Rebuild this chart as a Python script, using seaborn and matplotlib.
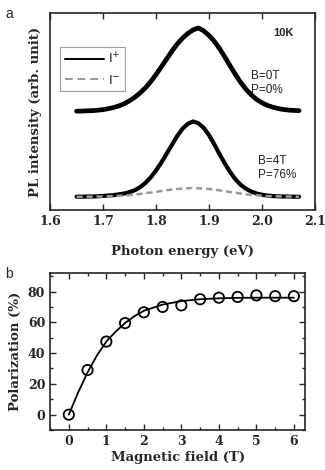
import numpy as np
import pandas as pd
import matplotlib
matplotlib.use("Agg")
import matplotlib.pyplot as plt
from matplotlib.ticker import MultipleLocator
from matplotlib.lines import Line2D
import seaborn as sns

# photon energy grid (eV) for the PL spectra
energy = np.round(np.arange(1.65, 2.0751, 0.01), 2)

# B=0T spectrum (I+ and I- overlap), arb. unit
pl_b0 = [0.502, 0.503, 0.504, 0.505, 0.507, 0.510, 0.515, 0.521, 0.529, 0.540,
         0.555, 0.573, 0.595, 0.621, 0.652, 0.688, 0.727, 0.767, 0.807, 0.843,
         0.873, 0.897, 0.915, 0.925, 0.910, 0.887, 0.857, 0.820, 0.777, 0.732,
         0.688, 0.648, 0.613, 0.585, 0.562, 0.545, 0.532, 0.523, 0.516, 0.511,
         0.508, 0.506, 0.505]
# B=4T spectra
pl_plus = [0.068, 0.068, 0.069, 0.069, 0.070, 0.072, 0.074, 0.076, 0.080, 0.084,
           0.091, 0.101, 0.116, 0.138, 0.166, 0.201, 0.241, 0.286, 0.331, 0.376,
           0.413, 0.438, 0.450, 0.441, 0.418, 0.381, 0.334, 0.284, 0.236, 0.193,
           0.156, 0.128, 0.108, 0.094, 0.084, 0.078, 0.074, 0.071, 0.070, 0.069,
           0.069, 0.068, 0.068]
pl_minus = [0.067, 0.067, 0.068, 0.068, 0.069, 0.069, 0.070, 0.071, 0.072, 0.074,
            0.076, 0.079, 0.082, 0.086, 0.089, 0.093, 0.097, 0.101, 0.104, 0.107,
            0.109, 0.111, 0.112, 0.111, 0.109, 0.107, 0.104, 0.100, 0.096, 0.092,
            0.088, 0.084, 0.080, 0.077, 0.075, 0.073, 0.071, 0.070, 0.070, 0.069,
            0.069, 0.068, 0.068]

# polarization vs field
field = [0, 0.5, 1, 1.5, 2, 2.5, 3, 3.5, 4, 4.5, 5, 5.5, 6]
polar = [0, 29, 47.5, 59.5, 66.5, 70, 71, 75, 76, 76.5, 77.5, 77, 77]
fit_field = [0, 0.25, 0.5, 0.75, 1, 1.25, 1.5, 1.75, 2, 2.5, 3, 3.5, 4, 4.5, 5, 5.5, 6]
fit_polar = [0, 14.5, 27.5, 38.5, 47.5, 54, 59.5, 64, 67.5, 71.5, 73.8, 75, 75.6, 75.9, 76, 76, 76]

spec = pd.DataFrame({"E": energy, "b0": pl_b0, "plus": pl_plus, "minus": pl_minus})

sns.set_style("ticks")
plt.rcParams["font.family"] = ["DejaVu Serif"]
plt.rcParams["xtick.direction"] = "in"
plt.rcParams["ytick.direction"] = "in"

fig = plt.figure(figsize=(3.25, 4.70), dpi=100)
ax1 = fig.add_axes([0.154, 0.553, 0.815, 0.419])
ax2 = fig.add_axes([0.154, 0.085, 0.785, 0.334])

# panel a
sns.lineplot(data=spec, x="E", y="b0", ax=ax1, color="black", lw=3.4)
sns.lineplot(data=spec, x="E", y="plus", ax=ax1, color="black", lw=3.0)
sns.lineplot(data=spec, x="E", y="minus", ax=ax1, color="#999999", lw=1.8,
             linestyle=(0, (2.5, 1.5)))
ax1.set_xlim(1.6, 2.1)
ax1.set_ylim(0, 1)
ax1.set_yticks([])
ax1.xaxis.set_major_locator(MultipleLocator(0.1))
ax1.tick_params(axis="x", top=True, length=4, width=1, labelsize=9)
for t in ax1.get_xticklabels():
    t.set_fontweight("bold")
ax1.set_xlabel("Photon energy (eV)", fontsize=9.5, fontweight="bold", labelpad=12)
ax1.set_ylabel("PL intensity (arb. unit)", fontsize=9.5, fontweight="bold", labelpad=6)
handles = [Line2D([], [], color="black", lw=1.4),
           Line2D([], [], color="#999999", lw=1.4, linestyle=(0, (4, 2.5)))]
leg = ax1.legend(handles, ["I$^{+}$", "I$^{-}$"], loc="upper left",
                 bbox_to_anchor=(0.038, 0.83), borderaxespad=0, handlelength=3.0,
                 handletextpad=0.3, prop={"family": "Liberation Sans", "size": 9.5},
                 frameon=True, fancybox=False, edgecolor="#888888", borderpad=0.35,
                 labelspacing=0.55)
leg.get_frame().set_linewidth(0.8)
ax1.text(0.88, 0.90, "10K", transform=ax1.transAxes, ha="center", va="center",
         fontsize=8, fontweight="bold", family="Liberation Sans")
ax1.text(0.76, 0.645, "B=0T\nP=0%", transform=ax1.transAxes, ha="left", va="center",
         fontsize=8.5, family="Liberation Sans", color="#222222", linespacing=1.15)
ax1.text(0.785, 0.213, "B=4T\nP=76%", transform=ax1.transAxes, ha="left", va="center",
         fontsize=8.5, family="Liberation Sans", color="#222222", linespacing=1.15)

# panel b
sns.lineplot(x=fit_field, y=fit_polar, ax=ax2, color="black", lw=1.3)
sns.scatterplot(x=field, y=polar, ax=ax2, s=55, facecolor="none", edgecolor="black",
                linewidth=1.3, zorder=3)
ax2.set_xlim(-0.5, 6.3)
ax2.set_ylim(-10, 92)
ax2.xaxis.set_major_locator(MultipleLocator(1))
ax2.xaxis.set_minor_locator(MultipleLocator(0.5))
ax2.yaxis.set_major_locator(MultipleLocator(20))
ax2.yaxis.set_minor_locator(MultipleLocator(10))
ax2.tick_params(which="both", top=True, right=True, labelsize=9, width=1)
ax2.tick_params(which="major", length=4)
ax2.tick_params(which="minor", length=2.5)
for t in ax2.get_xticklabels() + ax2.get_yticklabels():
    t.set_fontweight("bold")
ax2.set_xlabel("Magnetic field (T)", fontsize=9.5, fontweight="bold", labelpad=2)
ax2.set_ylabel("Polarization (%)", fontsize=9.5, fontweight="bold", labelpad=4)

for ax in (ax1, ax2):
    for sp in ax.spines.values():
        sp.set_linewidth(1.2)

fig.text(0.015, 0.985, "a", fontsize=10, family="Liberation Sans", va="top")
fig.text(0.015, 0.432, "b", fontsize=10, family="Liberation Sans", va="top")

fig.savefig("out.png", dpi=100)
